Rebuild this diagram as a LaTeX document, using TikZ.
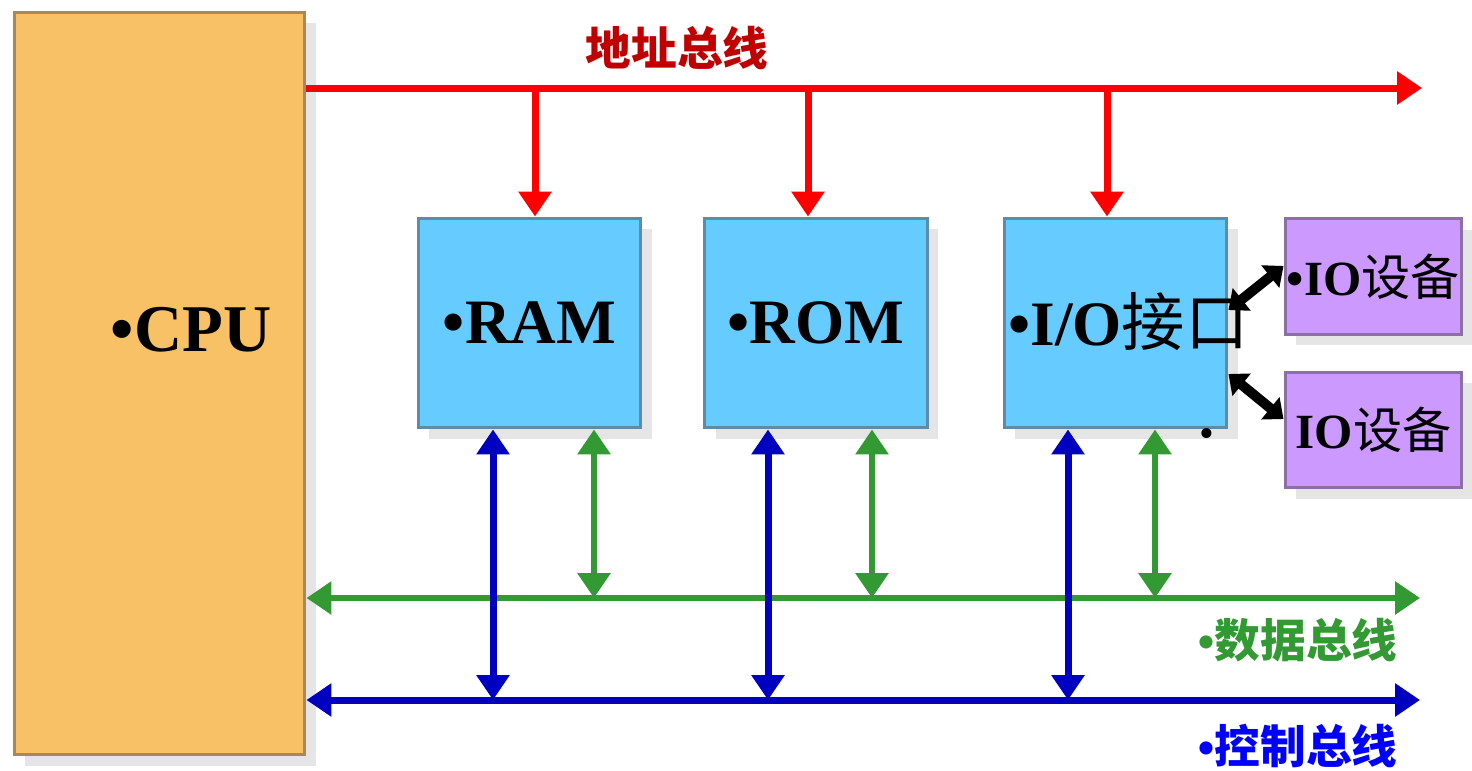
\documentclass[tikz,border=0pt]{standalone}
\usepackage{fontspec}
\setmainfont{Liberation Serif}
\newfontfamily\cjk{Noto Sans CJK SC}
\newfontfamily\lsans{Liberation Sans}
\usetikzlibrary{arrows.meta,shadows}
\definecolor{cpuorange}{HTML}{F8C165}
\definecolor{cpuedge}{HTML}{A88858}
\definecolor{memblue}{HTML}{66CCFF}
\definecolor{memedge}{HTML}{5E8CA8}
\definecolor{devpurple}{HTML}{CC99FF}
\definecolor{devedge}{HTML}{8B6FA5}
\definecolor{addrred}{HTML}{FF0000}
\definecolor{addrtext}{HTML}{C00000}
\definecolor{datagreen}{HTML}{339933}
\definecolor{ctrlblue}{HTML}{0000C0}
\definecolor{ctrltext}{HTML}{0000FF}
\def\bushead{Triangle[length=0.5cm,width=0.64cm]}
\tikzset{
  unit/.style={draw, line width=0.06cm, inner sep=0pt,
    drop shadow={shadow xshift=0.22cm, shadow yshift=-0.22cm, fill=black!10, opacity=1}},
  cpubox/.style={unit, draw=cpuedge, fill=cpuorange, minimum width=5.82cm, minimum height=14.86cm},
  membox/.style={unit, draw=memedge, fill=memblue, minimum width=4.46cm, minimum height=4.2cm,
    font=\fontsize{36}{38}\selectfont\bfseries},
  devbox/.style={unit, draw=devedge, fill=devpurple, minimum width=3.54cm, minimum height=2.32cm,
    font=\fontsize{28}{30}\selectfont},
  busname/.style={inner sep=0pt, font=\fontsize{26}{28}\selectfont\cjk\bfseries},
  addrbus/.style={draw=addrred, line width=0.14cm, -{\bushead}},
  databus/.style={draw=datagreen, line width=0.13cm, {\bushead}-{\bushead}},
  ctrlbus/.style={draw=ctrlblue, line width=0.14cm, {\bushead}-{\bushead}},
  iolink/.style={draw=black, line width=0.2cm,
    {Triangle[length=0.34cm,width=0.56cm]}-{Triangle[length=0.34cm,width=0.56cm]}}
}
\begin{document}
\begin{tikzpicture}[x=0.02cm, y=-0.02cm]
\useasboundingbox (0,0) rectangle (1472,771);
% units
\node[cpubox] (cpu) at (159.5,383.5) {};
\node[inner sep=0pt, font=\fontsize{38}{40}\selectfont\bfseries] (cputext) at (191,330) {•CPU};
\node[membox] (ram) at (529.5,323) {•RAM};
\node[membox] (rom) at (816,323) {•ROM};
\node[membox] (io) at (1115.5,323) {};
\node[inner sep=0pt, anchor=west, font=\fontsize{36}{38}\selectfont] (iotext) at (1008,322)
  {{\bfseries •I/O}{\cjk 接口}};
\node[devbox] (dev1) at (1373.5,276.5) {{\bfseries •IO}{\cjk 设备}};
\node[devbox] (dev2) at (1373.5,430) {{\bfseries IO}{\cjk 设备}};
\node[inner sep=0pt, font=\fontsize{24}{24}\selectfont] (dot) at (1207,438) {•};
% buses
\coordinate (aend) at (1422,88);
\coordinate (dend) at (1420,598);
\coordinate (cend) at (1420,700);
\draw[addrbus] (cpu.east |- aend) -- (aend);
\foreach \n/\x in {ram/535, rom/808, io/1107}
  \draw[addrbus] (\x,0 |- aend) -- (\x,0 |- \n.north);
\draw[databus] (cpu.east |- dend) -- (dend);
\foreach \n/\x in {ram/594, rom/872, io/1155}
  \draw[databus] (\x,0 |- \n.south) -- (\x,0 |- dend);
\draw[ctrlbus] (cpu.east |- cend) -- (cend);
\foreach \n/\x in {ram/493, rom/768, io/1068}
  \draw[ctrlbus] (\x,0 |- \n.south) -- (\x,0 |- cend);
\draw[iolink] (io.east |- 0,310) -- (dev1.west |- 0,266);
\draw[iolink] (io.east |- 0,374) -- (dev2.west |- 0,419);
% labels
\node[busname, text=addrtext] (addrname) at (677,48) {地址总线};
\node[busname, text=datagreen] (dataname) at (1298,640) {{\lsans •}数据总线};
\node[busname, text=ctrltext] (ctrlname) at (1298,746) {{\lsans •}控制总线};
\end{tikzpicture}
\end{document}
